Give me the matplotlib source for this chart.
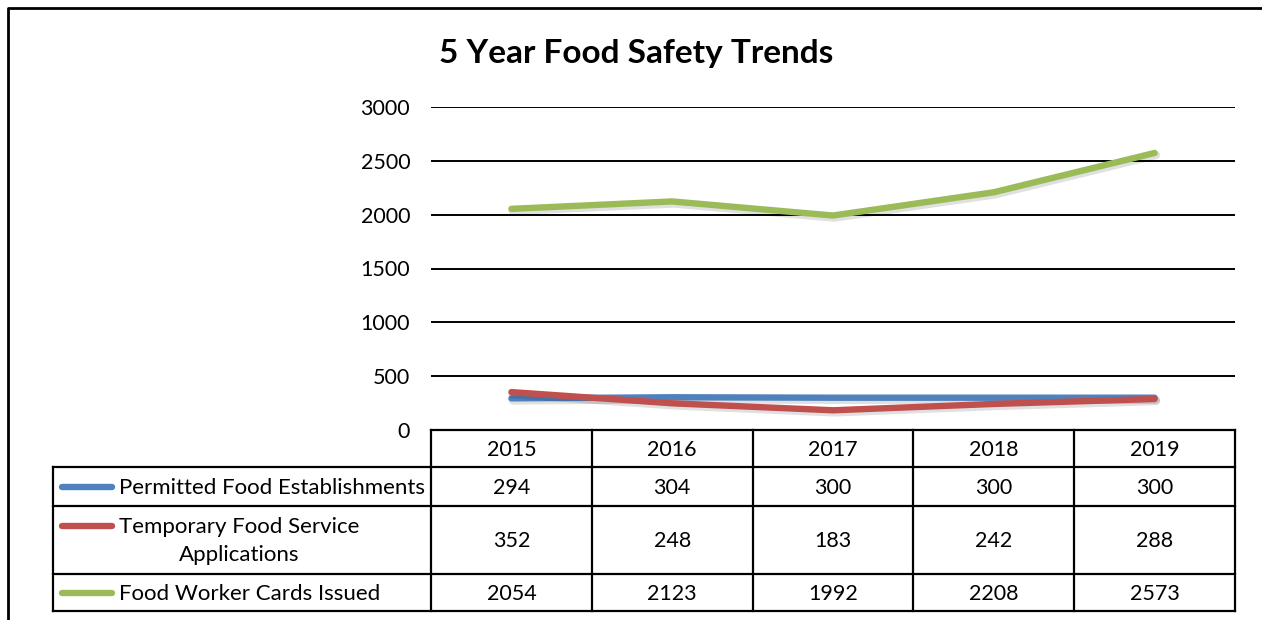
import matplotlib
matplotlib.use('Agg')
import matplotlib.pyplot as plt
import matplotlib.patheffects as pe
from matplotlib.lines import Line2D

plt.rcParams['font.family'] = ['Lato', 'DejaVu Sans']

# ---------- data ----------
years = ['2015', '2016', '2017', '2018', '2019']
series_names = ['Permitted Food Establishments',
                'Temporary Food Service\nApplications',
                'Food Worker Cards Issued']
permitted = [294, 304, 300, 300, 300]
temporary = [352, 248, 183, 242, 288]
worker_cards = [2054, 2123, 1992, 2208, 2573]
y_ticks = [0, 500, 1000, 1500, 2000, 2500, 3000]

colors = ['#4F81BD', '#C0504D', '#9BBB59']
values = [permitted, temporary, worker_cards]

# ---------- layout (pixels) ----------
W, H = 1262, 620
plot_l, plot_r = 431, 1235
plot_top, plot_bot = 107, 430
label_l = 53
row_edges = [430, 467, 506, 574, 611]   # header, 3 series rows
num_fs = 15.5
lab_fs = 16

fig = plt.figure(figsize=(W / 100, H / 100), dpi=100)

# overlay in pixel coordinates for frame, title and data table
ov = fig.add_axes([0, 0, 1, 1])
ov.set_xlim(0, W)
ov.set_ylim(H, 0)
ov.axis('off')

ax = fig.add_axes([plot_l / W, 1 - plot_bot / H,
                   (plot_r - plot_l) / W, (plot_bot - plot_top) / H])
ax.set_xlim(-0.5, len(years) - 0.5)
ax.set_ylim(0, 3000)
ax.set_facecolor('none')
for s in ax.spines.values():
    s.set_visible(False)
ax.set_xticks([])
ax.set_yticks(y_ticks)
ax.set_yticklabels([str(t) for t in y_ticks], fontsize=num_fs)
ax.tick_params(axis='y', length=0, pad=15)
for t in y_ticks[1:]:
    ax.axhline(t, color='black', lw=1.4, zorder=1)

shadow = [pe.SimpleLineShadow(offset=(1, -1.5), shadow_color='black', alpha=0.12, linewidth=6),
          pe.Normal()]
xs = list(range(len(years)))
for vals, c in zip(values, colors):
    ax.plot(xs, vals, color=c, lw=4.6, solid_capstyle='round',
            solid_joinstyle='round', zorder=3, path_effects=shadow)

ov.text(636, 54, '5 Year Food Safety Trends', fontsize=24, fontweight='bold',
        ha='center', va='center')

# outer chart frame
ov.plot([8, 8, W], [H, 8, 8], color='black', lw=2, solid_capstyle='projecting')

# ---------- data table ----------
ncol = len(years)
col_w = (plot_r - plot_l) / ncol
col_edges = [plot_l + i * col_w for i in range(ncol + 1)]
lw_t = 1.6
ov.plot([plot_l, plot_r], [row_edges[0]] * 2, color='black', lw=lw_t)
for y in row_edges[1:]:
    ov.plot([label_l, plot_r], [y, y], color='black', lw=lw_t)
ov.plot([label_l, label_l], [row_edges[1], row_edges[-1]], color='black', lw=lw_t)
for x in col_edges:
    ov.plot([x, x], [row_edges[0], row_edges[-1]], color='black', lw=lw_t)

for i, yr in enumerate(years):
    cx = (col_edges[i] + col_edges[i + 1]) / 2
    ov.text(cx, (row_edges[0] + row_edges[1]) / 2 + 1, yr, ha='center', va='center', fontsize=num_fs)

for r, (name, vals, c) in enumerate(zip(series_names, values, colors)):
    y0, y1 = row_edges[r + 1], row_edges[r + 2]
    cy = (y0 + y1) / 2
    for i, v in enumerate(vals):
        cx = (col_edges[i] + col_edges[i + 1]) / 2
        ov.text(cx, cy + 1, str(v), ha='center', va='center', fontsize=num_fs)
    nlines = name.count('\n') + 1
    line_h = 29
    first_y = cy - (nlines - 1) * line_h / 2
    ov.text(119, cy + 1, name, ha='left', va='center', fontsize=lab_fs,
            multialignment='center', linespacing=1.55)
    ov.add_line(Line2D([62, 112], [first_y, first_y], color=c, lw=4.6,
                       solid_capstyle='round'))

fig.savefig('out.png', dpi=100)
